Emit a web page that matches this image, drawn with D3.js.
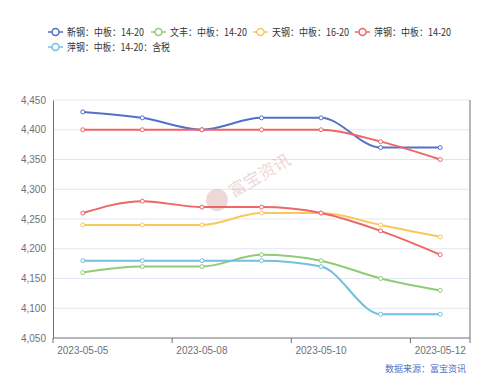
<!DOCTYPE html>
<html>
<head>
<meta charset="utf-8">
<script src="https://cdn.jsdelivr.net/npm/d3@7"></script>
<style>
  body { margin: 0; background: #fff; }
  text { font-family: "Noto Sans CJK SC", "Noto Sans", sans-serif; }
</style>
</head>
<body>
<div id="wrapper"></div>
<script>
// data
const dates = ["2023-05-05", "2023-05-06", "2023-05-08", "2023-05-09", "2023-05-10", "2023-05-11", "2023-05-12"]
const xinGang = [4430, 4420, 4400, 4420, 4420, 4370, 4370]
const wenFeng = [4160, 4170, 4170, 4190, 4180, 4150, 4130]
const tianGang = [4240, 4240, 4240, 4260, 4260, 4240, 4220]
const pingGangA = [4400, 4400, 4400, 4400, 4400, 4380, 4350]
const pingGangB = [4260, 4280, 4270, 4270, 4260, 4230, 4190]
const pingGangTax = [4180, 4180, 4180, 4180, 4170, 4090, 4090]
const yTicks = [4050, 4100, 4150, 4200, 4250, 4300, 4350, 4400, 4450]

const series = [
  { name: "新钢：中板：14-20", values: xinGang, color: "#5470c6" },
  { name: "文丰：中板：14-20", values: wenFeng, color: "#91cc75" },
  { name: "天钢：中板：16-20", values: tianGang, color: "#fac858" },
  { name: "萍钢：中板：14-20", values: pingGangA, color: "#ee6666" },
  { name: "萍钢：中板：14-20", values: pingGangB, color: "#ee6666", noLegend: true },
  { name: "萍钢：中板：14-20：含税", values: pingGangTax, color: "#73c0de" },
]

const dimensions = {
  width: 500,
  height: 377,
  margin: { top: 100, right: 30, bottom: 39, left: 53 },
}
dimensions.boundedWidth = dimensions.width - dimensions.margin.left - dimensions.margin.right
dimensions.boundedHeight = dimensions.height - dimensions.margin.top - dimensions.margin.bottom

const wrapper = d3.select("#wrapper")
  .append("svg")
    .attr("width", dimensions.width)
    .attr("height", dimensions.height)

const bounds = wrapper.append("g")
    .attr("transform", `translate(${dimensions.margin.left},${dimensions.margin.top})`)

// scales
const xScale = d3.scaleBand()
  .domain(dates)
  .range([0, dimensions.boundedWidth])

const yScale = d3.scaleLinear()
  .domain([4050, 4450])
  .range([dimensions.boundedHeight, 0])

const xCenter = d => xScale(d) + xScale.bandwidth() / 2

// grid
bounds.append("g")
  .selectAll("line")
  .data(yTicks.slice(1))
  .join("line")
    .attr("x1", 0)
    .attr("x2", dimensions.boundedWidth)
    .attr("y1", d => yScale(d))
    .attr("y2", d => yScale(d))
    .attr("stroke", "#e0e6f1")

// watermark
const wm = bounds.append("g")
    .attr("transform", "translate(164,100) rotate(-30)")
    .attr("opacity", 0.22)
wm.append("circle").attr("r", 11).attr("fill", "#b05050")
wm.append("text")
    .attr("x", 15).attr("y", 6)
    .attr("font-size", 17)
    .attr("fill", "#b05050")
    .text("富宝资讯")

// y axis
const yAxis = bounds.append("g")
  .call(d3.axisLeft(yScale).tickValues(yTicks).tickSize(0).tickPadding(7).tickFormat(d3.format(",")))
yAxis.select(".domain").attr("stroke", "#6e7079")
yAxis.selectAll("text").attr("fill", "#6e7079").attr("font-size", 10)
  .style("font-family", "'Liberation Sans', sans-serif")

// right line
bounds.append("line")
    .attr("x1", dimensions.boundedWidth).attr("x2", dimensions.boundedWidth)
    .attr("y1", 0).attr("y2", dimensions.boundedHeight)
    .attr("stroke", "#6e7079")

// x axis
const xAxis = bounds.append("g")
    .attr("transform", `translate(0,${dimensions.boundedHeight})`)
xAxis.append("line")
    .attr("x1", 0).attr("x2", dimensions.boundedWidth)
    .attr("stroke", "#6e7079")
const tickIdx = [0, 2, 4, 6]
xAxis.selectAll(".tick")
  .data([0, 2, 4, 6, 7])
  .join("line")
    .attr("x1", i => i < 7 ? xScale(dates[i]) : dimensions.boundedWidth)
    .attr("x2", i => i < 7 ? xScale(dates[i]) : dimensions.boundedWidth)
    .attr("y2", 5)
    .attr("stroke", "#6e7079")
xAxis.selectAll(".label")
  .data(tickIdx)
  .join("text")
    .attr("x", i => xCenter(dates[i]))
    .attr("y", 16)
    .attr("text-anchor", "middle")
    .attr("font-size", 10)
    .attr("fill", "#6e7079")
    .style("font-family", "'Liberation Sans', sans-serif")
    .text(i => dates[i])

// lines
const lineGenerator = d3.line()
  .x((d, i) => xCenter(dates[i]))
  .y(d => yScale(d))
  .curve(d3.curveMonotoneX)

const seriesG = bounds.selectAll(".series")
  .data(series)
  .join("g")

seriesG.append("path")
    .attr("d", d => lineGenerator(d.values))
    .attr("fill", "none")
    .attr("stroke", d => d.color)
    .attr("stroke-width", 2)

seriesG.selectAll("circle")
  .data(d => d.values.map((v, i) => ({ v, i, color: d.color })))
  .join("circle")
    .attr("cx", d => xCenter(dates[d.i]))
    .attr("cy", d => yScale(d.v))
    .attr("r", 2)
    .attr("fill", "#fff")
    .attr("stroke", d => d.color)
    .attr("stroke-width", 1)

// legend
const legendSeries = series.filter(d => !d.noLegend)
const legendPos = [[48, 32], [151, 32], [253, 32], [355, 32], [48, 47]]
const legendLen = [77, 77, 77, 77, 103]
const legend = wrapper.selectAll(".legend")
  .data(legendSeries)
  .join("g")
    .attr("transform", (d, i) => `translate(${legendPos[i][0]},${legendPos[i][1]})`)
legend.append("line")
    .attr("x1", 0).attr("x2", 15)
    .attr("stroke", d => d.color)
    .attr("stroke-width", 1.5)
legend.append("circle")
    .attr("cx", 7.5).attr("r", 3.5)
    .attr("fill", "#fff")
    .attr("stroke", d => d.color)
    .attr("stroke-width", 1.5)
legend.append("text")
    .attr("x", 19).attr("y", 4)
    .attr("font-size", 10.5)
    .attr("fill", "#333")
    .attr("textLength", (d, i) => legendLen[i])
    .attr("lengthAdjust", "spacingAndGlyphs")
    .text(d => d.name)

// source
wrapper.append("text")
    .attr("x", 466).attr("y", 372)
    .attr("text-anchor", "end")
    .attr("font-size", 9)
    .attr("fill", "#5470c6")
    .text("数据来源：富宝资讯")
</script>
</body>
</html>
